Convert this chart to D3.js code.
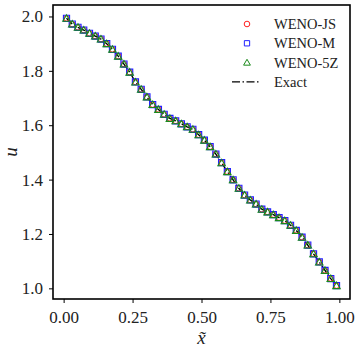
<!DOCTYPE html>
<html>
<head>
<meta charset="utf-8">
<script src="https://cdn.jsdelivr.net/npm/d3@7"></script>
<style>
  body { margin: 0; background: #fff; }
  text { font-family: "Liberation Serif", "DejaVu Serif", serif; fill: #222; }
</style>
</head>
<body>
<script>
// cell count and values
var nCells = 48
var uExact = [1.993, 1.972, 1.960, 1.950, 1.938, 1.928, 1.917, 1.900, 1.879, 1.854,
              1.825, 1.795, 1.759, 1.732, 1.704, 1.676, 1.658, 1.640, 1.625, 1.616,
              1.605, 1.594, 1.585, 1.565, 1.545, 1.521, 1.494, 1.462, 1.429, 1.399,
              1.368, 1.343, 1.325, 1.310, 1.291, 1.281, 1.271, 1.260, 1.249, 1.232,
              1.213, 1.188, 1.159, 1.127, 1.097, 1.066, 1.036, 1.010]
// the three schemes lie on top of the exact solution at this scale
var wenoJS = uExact.slice()
var wenoM = uExact.slice()
var weno5Z = uExact.slice()
var xCells = uExact.map(function(d, i) { return (i + 0.5) / nCells; })

var xTicks = [0, 0.25, 0.5, 0.75, 1.0]
var yTicks = [1.0, 1.2, 1.4, 1.6, 1.8, 2.0]
var legendNames = ["WENO-JS", "WENO-M", "WENO-5Z", "Exact"]

var W = 357, H = 349
var box = {left: 53, right: 350, top: 5, bottom: 299}

var svg = d3.select("body").append("svg")
    .attr("width", W)
    .attr("height", H)

// matplotlib style 5% margins
function padded(vals) {
  var ext = d3.extent(vals), r = ext[1] - ext[0]
  return [ext[0] - 0.05 * r, ext[1] + 0.05 * r]
}

var xScale = d3.scaleLinear().domain(padded(xCells)).range([box.left, box.right])
var yScale = d3.scaleLinear().domain(padded(uExact)).range([box.bottom, box.top])

// axes
svg.append("g")
    .attr("class", "axis")
    .attr("transform", "translate(0," + box.bottom + ")")
    .call(d3.axisBottom(xScale).tickValues(xTicks).tickFormat(d3.format(".2f")).tickSize(4).tickPadding(8))

svg.append("g")
    .attr("class", "axis")
    .attr("transform", "translate(" + box.left + ",0)")
    .call(d3.axisLeft(yScale).tickValues(yTicks).tickFormat(d3.format(".1f")).tickSize(4).tickPadding(6))

svg.selectAll(".axis .domain").remove()
svg.selectAll(".axis line").attr("stroke", "#000").attr("stroke-width", 1)
svg.selectAll(".axis text")
    .style("font-family", "'Liberation Serif', serif")
    .style("font-size", "17px")
    .attr("fill", "#333")

// frame
svg.append("rect")
    .attr("x", box.left)
    .attr("y", box.top)
    .attr("width", box.right - box.left)
    .attr("height", box.bottom - box.top)
    .attr("fill", "none")
    .attr("stroke", "#000")
    .attr("stroke-width", 1.6)

var plot = svg.append("g")

// exact solution
var line = d3.line()
    .x(function(d, i) { return xScale(xCells[i]); })
    .y(function(d) { return yScale(d); })

plot.append("path")
    .datum(uExact)
    .attr("d", line)
    .attr("fill", "none")
    .attr("stroke", "#000")
    .attr("stroke-width", 1.4)
    .attr("stroke-dasharray", "8,2.5,1.5,2.5")

var square = d3.symbol().type(d3.symbolSquare)
var triangle = d3.symbol().type(d3.symbolTriangle)

// WENO-JS circles
plot.selectAll(".js")
    .data(wenoJS)
  .enter().append("circle")
    .attr("cx", function(d, i) { return xScale(xCells[i]); })
    .attr("cy", function(d) { return yScale(d); })
    .attr("r", 2.8)
    .attr("fill", "none")
    .attr("stroke", "#ff2020")
    .attr("stroke-width", 1)

// WENO-M squares
plot.selectAll(".m")
    .data(wenoM)
  .enter().append("path")
    .attr("d", square.size(38))
    .attr("transform", function(d, i) { return "translate(" + xScale(xCells[i]) + "," + yScale(d) + ")"; })
    .attr("fill", "none")
    .attr("stroke", "#2020ff")
    .attr("stroke-width", 1.1)

// WENO-5Z triangles
plot.selectAll(".z")
    .data(weno5Z)
  .enter().append("path")
    .attr("d", triangle.size(24))
    .attr("transform", function(d, i) { return "translate(" + xScale(xCells[i]) + "," + (yScale(d) + 0.8) + ")"; })
    .attr("fill", "none")
    .attr("stroke", "#1a8a1a")
    .attr("stroke-width", 1.1)

// legend
var legend = svg.append("g").attr("transform", "translate(247,24)")
var rowH = 19.3

legendNames.forEach(function(name, i) {
  var g = legend.append("g").attr("transform", "translate(0," + i * rowH + ")")
  if (i == 0) {
    g.append("circle").attr("r", 2.8).attr("fill", "none").attr("stroke", "#ff2020").attr("stroke-width", 1)
  } else if (i == 1) {
    g.append("path").attr("d", square.size(28)).attr("fill", "none").attr("stroke", "#2020ff").attr("stroke-width", 1)
  } else if (i == 2) {
    g.append("path").attr("d", triangle.size(20)).attr("transform", "translate(0,0.6)")
        .attr("fill", "none").attr("stroke", "#1a8a1a").attr("stroke-width", 1)
  } else {
    g.append("line").attr("x1", -15).attr("x2", 14).attr("y1", 0).attr("y2", 0)
        .attr("stroke", "#000").attr("stroke-width", 1.4).attr("stroke-dasharray", "8,2.5,1.5,2.5")
  }
  g.append("text")
      .attr("x", 27)
      .attr("dy", "0.35em")
      .style("font-size", "14.5px")
      .text(name)
})

// axis titles
svg.append("text")
    .attr("text-anchor", "middle")
    .attr("transform", "translate(17," + ((box.top + box.bottom) / 2) + ")rotate(-90)")
    .style("font-size", "19px")
    .style("font-style", "italic")
    .text("u")

svg.append("text")
    .attr("text-anchor", "middle")
    .attr("x", xScale(0.5))
    .attr("y", 344)
    .style("font-size", "19px")
    .style("font-style", "italic")
    .text("x\u0303")
</script>
</body>
</html>
